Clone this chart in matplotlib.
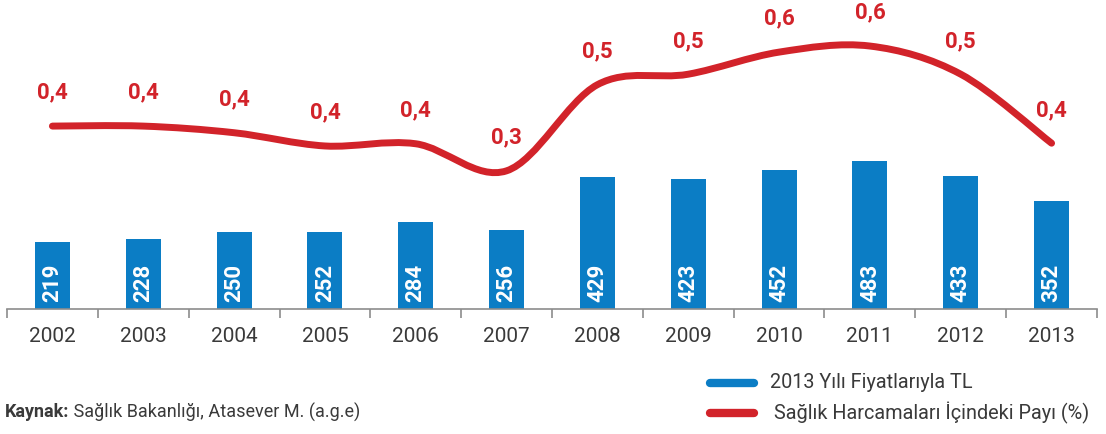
import matplotlib
matplotlib.use("Agg")
import matplotlib.pyplot as plt
from matplotlib.path import Path
from matplotlib.patches import PathPatch
from matplotlib.lines import Line2D

plt.rcParams["font.family"] = ["Roboto", "DejaVu Sans"]

years = ["2002", "2003", "2004", "2005", "2006", "2007",
         "2008", "2009", "2010", "2011", "2012", "2013"]
spend_tl = [219, 228, 250, 252, 284, 256, 429, 423, 452, 483, 433, 352]
share_pct = [0.425, 0.425, 0.413, 0.389, 0.393, 0.344,
             0.500, 0.519, 0.559, 0.570, 0.519, 0.394]

BLUE = "#0b7dc5"
RED = "#d2232a"
GREY = "#8c8c8c"
TEXT = "#3a3a3a"

W, H = 1106, 434
fig = plt.figure(figsize=(W / 100, H / 100), dpi=100)
ax = fig.add_axes([7 / W, (H - 309) / H, 1090 / W, 309 / H])

x = list(range(len(years)))
ax.bar(x, spend_tl, width=0.385, color=BLUE, zorder=2)
for xi, v in zip(x, spend_tl):
    ax.annotate(str(v), xy=(xi, 0), xytext=(0, 5), textcoords="offset points",
                rotation=90, ha="center", va="bottom", color="white",
                fontsize=16, fontweight="bold")

ax.set_xlim(-0.5, len(years) - 0.5)
ax.set_ylim(0, 1006)
for s in ("top", "left", "right"):
    ax.spines[s].set_visible(False)
ax.spines["bottom"].set_color(GREY)
ax.spines["bottom"].set_linewidth(1.2)
ax.set_yticks([])
ax.set_xticks(x)
ax.set_xticklabels(years, fontsize=15, color=TEXT)
ax.tick_params(axis="x", which="major", length=0, pad=13)
ax.set_xticks([i - 0.5 for i in range(len(years) + 1)], minor=True)
ax.tick_params(axis="x", which="minor", length=6.5, width=1.2, color=GREY)

# share line on a twin axis, smoothed with a Catmull-Rom bezier
ax2 = ax.twinx()
ax2.set_ylim(0.0937, 0.6534)
ax2.axis("off")
pts = list(zip(x, share_pct))
verts = [pts[0]]
codes = [Path.MOVETO]
n = len(pts)
for i in range(n - 1):
    p0 = pts[max(i - 1, 0)]
    p1 = pts[i]
    p2 = pts[i + 1]
    p3 = pts[min(i + 2, n - 1)]
    c1 = (p1[0] + (p2[0] - p0[0]) / 6, p1[1] + (p2[1] - p0[1]) / 6)
    c2 = (p2[0] - (p3[0] - p1[0]) / 6, p2[1] - (p3[1] - p1[1]) / 6)
    verts += [c1, c2, p2]
    codes += [Path.CURVE4] * 3
ax2.add_patch(PathPatch(Path(verts, codes), fill=False, edgecolor=RED,
                        lw=5, capstyle="round", joinstyle="round"))
for xi, v in zip(x, share_pct):
    ax2.annotate(f"{v:.1f}".replace(".", ","), xy=(xi, v), xytext=(0, 24),
                 textcoords="offset points", ha="center", va="center",
                 color=RED, fontsize=16, fontweight="bold")

# legend drawn by hand
for yy, col, label, tx in [(383, BLUE, "2013 Yılı Fiyatlarıyla TL", 770),
                           (413, RED, "Sağlık Harcamaları İçindeki Payı (%)", 774)]:
    fig.add_artist(Line2D([710 / W, 754 / W], [(H - yy) / H] * 2, color=col,
                          lw=6, solid_capstyle="round"))
    fig.text(tx / W, (H - yy) / H, label, fontsize=14.3, color=TEXT,
             ha="left", va="center")

src = fig.text(5 / W, (H - 412) / H, "Kaynak:", fontsize=13,
               fontweight="bold", color=TEXT, ha="left", va="center")
ax.annotate(" Sağlık Bakanlığı, Atasever M. (a.g.e)", xy=(1, 0.5),
            xycoords=src, ha="left", va="center", fontsize=13, color=TEXT,
            annotation_clip=False)

fig.savefig("out.png", dpi=100)
